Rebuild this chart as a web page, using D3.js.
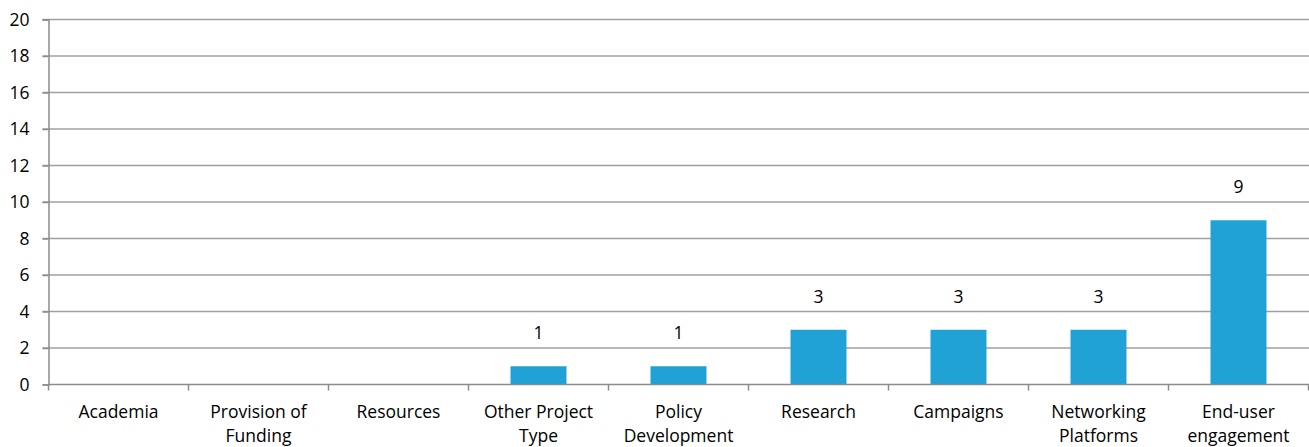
<!DOCTYPE html>
<html><head><meta charset="utf-8">
<script src="https://cdn.jsdelivr.net/npm/d3@7"></script>
<style>body{margin:0;background:#fff;} text{font-family:"Open Sans","Liberation Sans",sans-serif;fill:#000;}</style>
</head><body>
<svg id="c" width="1309" height="447"></svg>
<script>
const categories = ["Academia","Provision of\nFunding","Resources","Other Project\nType","Policy\nDevelopment","Research","Campaigns","Networking\nPlatforms","End-user\nengagement"];
const values = [0,0,0,1,1,3,3,3,9];
const yTicks = [0,2,4,6,8,10,12,14,16,18,20];

(function(){
const FS = 17.5;
const svg = d3.select("#c");
const mL = 48.5, mR = 1308.5, mT = 19.5, mB = 384.5;
const x = d3.scaleBand().domain(categories).range([mL, mR]).paddingInner(0.6).paddingOuter(0.3);
const xb = d3.scaleBand().domain(categories).range([mL, mR]);
const y = d3.scaleLinear().domain([0,20]).range([mB, mT]);

svg.append("g").selectAll("line").data(yTicks.filter(d=>d>0)).join("line")
  .attr("x1", mL-6).attr("x2", mR+1).attr("y1", d=>y(d)).attr("y2", d=>y(d))
  .attr("stroke","#a0a0a0").attr("stroke-width",1.5);

const yAxis = d3.axisLeft(y).tickValues(yTicks).tickSize(6).tickPadding(6);
const gy = svg.append("g").attr("transform",`translate(${mL},0)`).call(yAxis);
gy.select(".domain").attr("stroke","#8c8c8c").attr("stroke-width",1.5);
gy.selectAll(".tick line").attr("stroke","#8c8c8c").attr("stroke-width",1.5);
gy.selectAll(".tick text").attr("font-size",FS).attr("font-family",null).attr("text-anchor","end").attr("x",-19);

svg.append("g").selectAll("rect").data(values).join("rect")
  .attr("x",(d,i)=>x(categories[i])).attr("width",x.bandwidth())
  .attr("y",d=>y(d)).attr("height",d=>mB-y(d))
  .attr("fill","#21a2d6");

const gx = svg.append("g").attr("transform",`translate(0,${mB})`);
gx.append("line").attr("x1",mL).attr("x2",mR+1).attr("stroke","#8c8c8c").attr("stroke-width",1.5);
const bounds = categories.map(c=>xb(c)).concat([mR]);
gx.selectAll("line.t").data(bounds).join("line").attr("class","t")
  .attr("x1",d=>d).attr("x2",d=>d).attr("y1",0).attr("y2",6)
  .attr("stroke","#8c8c8c").attr("stroke-width",1.5);
categories.forEach(c=>{
  const cx = xb(c)+xb.bandwidth()/2;
  const t = gx.append("text").attr("x", cx).attr("y",33).attr("text-anchor","middle").attr("font-size",FS);
  c.split("\n").forEach((l,j)=>t.append("tspan").attr("x",cx).attr("dy",j?24:0).text(l));
});

svg.append("g").selectAll("text").data(values.map((v,i)=>({v,c:categories[i]})).filter(d=>d.v>0)).join("text")
  .attr("x",d=>xb(d.c)+xb.bandwidth()/2)
  .attr("y",d=>y(d.v)-27).attr("text-anchor","middle").attr("font-size",FS)
  .text(d=>d.v);
})();
</script>
</body></html>
